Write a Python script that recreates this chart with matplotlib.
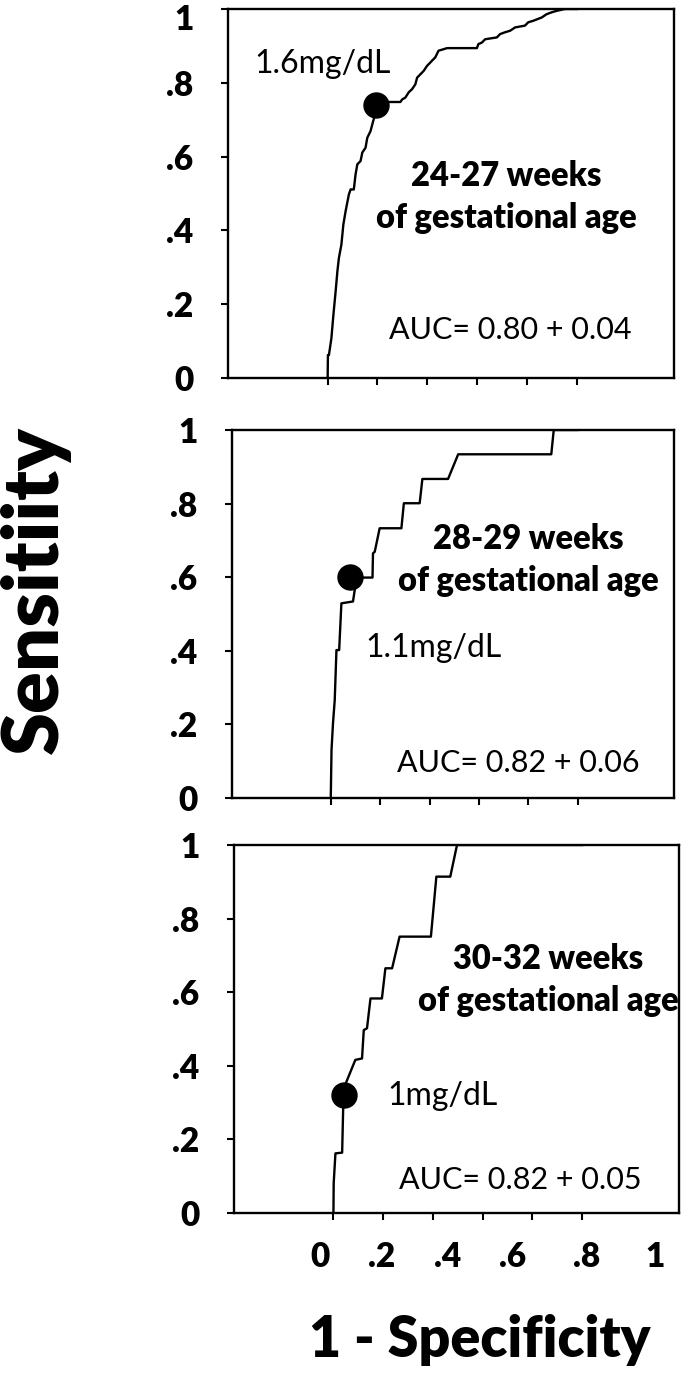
import matplotlib
matplotlib.use("Agg")
import matplotlib.pyplot as plt
import matplotlib.transforms as mtransforms

plt.rcParams['font.family'] = ['Lato', 'DejaVu Sans']

# ROC curves (1 - specificity, sensitivity)
fpr_24 = [0, 0.001, 0.005, 0.015, 0.023, 0.032, 0.039, 0.045, 0.055, 0.063, 0.072, 0.085, 0.092,
          0.105, 0.112, 0.119, 0.132, 0.139, 0.152, 0.159, 0.172, 0.183, 0.189, 0.192, 0.292,
          0.299, 0.312, 0.325, 0.339, 0.352, 0.359, 0.372, 0.385, 0.399, 0.419, 0.432, 0.445,
          0.465, 0.479, 0.599, 0.605, 0.619, 0.632, 0.679, 0.692, 0.712, 0.732, 0.752, 0.792,
          0.805, 0.825, 0.859, 0.879, 0.899, 0.919, 0.952, 1.0]
tpr_24 = [0, 0.062, 0.062, 0.108, 0.171, 0.235, 0.289, 0.325, 0.361, 0.416, 0.452, 0.497, 0.511,
          0.511, 0.552, 0.579, 0.588, 0.611, 0.624, 0.651, 0.669, 0.697, 0.710, 0.748, 0.748,
          0.755, 0.760, 0.774, 0.783, 0.796, 0.814, 0.823, 0.832, 0.846, 0.860, 0.869, 0.887,
          0.891, 0.894, 0.894, 0.905, 0.909, 0.918, 0.923, 0.932, 0.937, 0.941, 0.950, 0.955,
          0.964, 0.968, 0.977, 0.986, 0.991, 0.995, 1.0, 1.0]

fpr_28 = [0, 0.003, 0.009, 0.016, 0.023, 0.034, 0.043, 0.090, 0.097, 0.097, 0.169, 0.171, 0.178,
          0.198, 0.286, 0.296, 0.360, 0.371, 0.475, 0.516, 0.893, 0.903, 1.0]
tpr_28 = [0, 0.130, 0.203, 0.266, 0.402, 0.402, 0.529, 0.534, 0.565, 0.599, 0.599, 0.665, 0.669,
          0.733, 0.733, 0.801, 0.801, 0.867, 0.867, 0.934, 0.934, 1.0, 1.0]

fpr_30 = [0, 0.001, 0.008, 0.035, 0.039, 0.044, 0.088, 0.115, 0.122, 0.135, 0.149, 0.195, 0.209,
          0.236, 0.266, 0.392, 0.414, 0.470, 0.497, 1.0]
tpr_30 = [0, 0.081, 0.162, 0.164, 0.280, 0.343, 0.416, 0.420, 0.497, 0.502, 0.583, 0.583, 0.665,
          0.665, 0.751, 0.751, 0.914, 0.914, 1.0, 1.0]

# cut-off points
cut_x = [0.195, 0.077, 0.041]
cut_y = [0.74, 0.60, 0.32]
cut_labels = ['1.6mg/dL', '1.1mg/dL', '1mg/dL']
groups = ['24-27 weeks\nof gestational age', '28-29 weeks\nof gestational age',
          '30-32 weeks\nof gestational age']
auc_text = ['AUC= 0.80 + 0.04', 'AUC= 0.82 + 0.06', 'AUC= 0.82 + 0.05']

ticks = [0, 0.2, 0.4, 0.6, 0.8, 1]
tick_labels = ['0', '.2', '.4', '.6', '.8', '1']

W, H = 688, 1378
fig = plt.figure(figsize=(W / 100, H / 100), dpi=100)

# panel boxes in pixels: left, right, top, bottom
boxes = [(228, 674, 9, 378), (232, 674, 430, 798), (234, 679, 845, 1213)]
curves = [(fpr_24, tpr_24), (fpr_28, tpr_28), (fpr_30, tpr_30)]
cut_pos = [(-0.02, 0.85), (0.417, 0.408), (0.438, 0.318)]
grp_pos = [(0.716, 0.49), (0.80, 0.647), (0.863, 0.633)]
auc_pos = [(0.732, 0.13), (0.761, 0.095), (0.751, 0.09)]

axes = []
for i, (l, r, t, b) in enumerate(boxes):
    ax = fig.add_axes([l / W, 1 - b / H, (r - l) / W, (b - t) / H])
    fx, fy = curves[i]
    ax.plot(fx, fy, color='black', lw=1.7)
    ax.plot(cut_x[i], cut_y[i], 'o', color='black', ms=18)
    ax.text(*cut_pos[i], cut_labels[i], ha='center', va='center', fontsize=23)
    ax.text(*grp_pos[i], groups[i], ha='center', va='center', fontsize=23.5,
            fontweight='heavy', linespacing=1.4)
    ax.text(*auc_pos[i], auc_text[i], ha='center', va='center', fontsize=22)
    ax.set_xlim(-0.4, 1.39)
    ax.set_ylim(0, 1)
    ax.set_xticks(ticks)
    ax.set_xticklabels([])
    ax.set_yticks(ticks)
    ax.set_yticklabels(tick_labels, fontsize=24, fontweight='heavy')
    ax.tick_params(direction='out', length=5, width=1.5, pad=20)
    for s in ax.spines.values():
        s.set_linewidth(1.7)
    axes.append(ax)

# top "1" label sits a little lower so it stays inside the picture
top_lab = axes[0].get_yticklabels()[-1]
top_lab.set_transform(top_lab.get_transform() +
                      mtransforms.ScaledTranslation(0, -8 / 100, fig.dpi_scale_trans))

# x tick labels under the last panel, drawn where the original put them
label_px = [320, 382, 448, 513, 587, 655]
for lab, xp in zip(tick_labels, label_px):
    fig.text(xp / W, 1 - 1257 / H, lab, ha='center', va='center', fontsize=24,
             fontweight='heavy')

fig.text(35 / W, 1 - 590 / H, 'Sensitiity', rotation=90, ha='center', va='center',
         fontsize=56, fontweight='heavy')
fig.text(480 / W, 1 - 1340 / H, '1 - Specificity', ha='center', va='center',
         fontsize=40, fontweight='heavy')

fig.savefig('out.png', dpi=100)
